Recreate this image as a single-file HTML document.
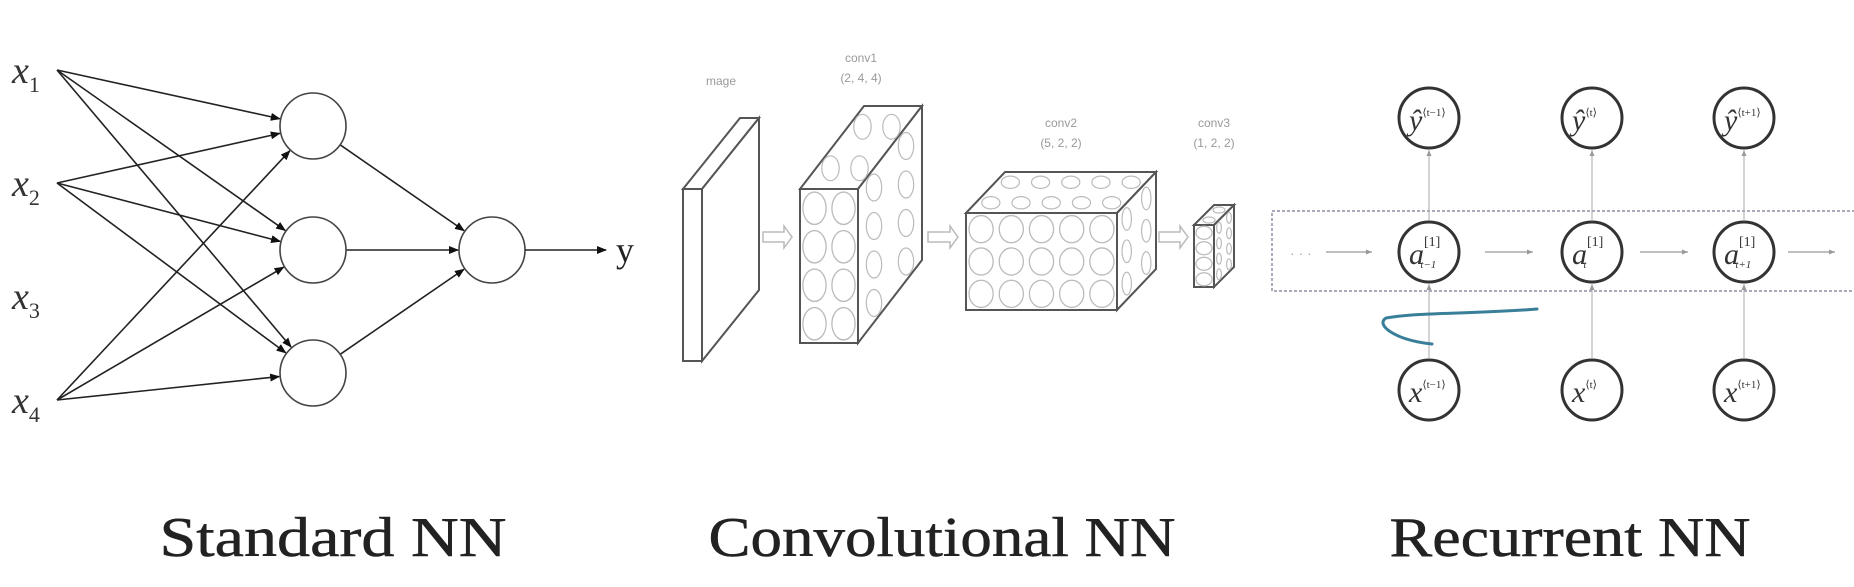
<!DOCTYPE html>
<html><head><meta charset="utf-8"><style>
html,body{margin:0;padding:0;background:#fff;}
svg{display:block;}
</style></head><body>
<svg id="fig" width="1854" height="587" viewBox="0 0 1854 587" xmlns="http://www.w3.org/2000/svg">
<defs>
<marker id="ah" markerWidth="10" markerHeight="8" refX="9" refY="4" orient="auto" markerUnits="userSpaceOnUse"><path d="M0,0 L10,4 L0,8 z" fill="#111"/></marker>
<marker id="ahs" markerWidth="6" markerHeight="5" refX="6" refY="2.5" orient="auto" markerUnits="userSpaceOnUse"><path d="M0,0 L6,2.5 L0,5 z" fill="#999"/></marker>
</defs>
<g id="std"></g>
<g id="cnn"></g>
<g id="rnn"></g>
<text x="333" y="556" text-anchor="middle" font-family="Liberation Serif, serif" font-size="56" fill="#222" stroke="#222" stroke-width="0.5" textLength="347" lengthAdjust="spacingAndGlyphs">Standard NN</text>
<text x="942" y="556" text-anchor="middle" font-family="Liberation Serif, serif" font-size="56" fill="#222" stroke="#222" stroke-width="0.5" textLength="467" lengthAdjust="spacingAndGlyphs">Convolutional NN</text>
<text x="1570" y="556" text-anchor="middle" font-family="Liberation Serif, serif" font-size="56" fill="#222" stroke="#222" stroke-width="0.5" textLength="361" lengthAdjust="spacingAndGlyphs">Recurrent NN</text>
</svg>
<script>
const NS="http://www.w3.org/2000/svg";
const inputLabels=["1","2","3","4"];
const inputY=[70,183,296,400];
const connectedInputs=[0,1,3];
const hiddenY=[126,250,373];
const outputY=[250];
function mk(parent,tag,attrs,txt){const e=document.createElementNS(NS,tag);for(const k in attrs)e.setAttribute(k,attrs[k]);if(txt!==undefined)e.textContent=txt;parent.appendChild(e);return e;}
const std=document.getElementById('std');
const R=33, inX=57, hX=313, oX=492;
connectedInputs.forEach(i=>{hiddenY.forEach((hy,j)=>{
 const dx=hX-inX, dy=hy-inputY[i], L=Math.hypot(dx,dy);
 const l=mk(std,'line',{x1:inX,y1:inputY[i],x2:hX-dx/L*(R+1),y2:hy-dy/L*(R+1),stroke:'#222','stroke-width':1.6,'marker-end':'url(#ah)'});
 
 
});});
hiddenY.forEach(hy=>{
 const dx=oX-hX, dy=outputY[0]-hy, L=Math.hypot(dx,dy);
 const l=mk(std,'line',{x1:hX+dx/L*R,y1:hy+dy/L*R,x2:oX-dx/L*(R+1),y2:outputY[0]-dy/L*(R+1),stroke:'#222','stroke-width':1.6,'marker-end':'url(#ah)'});
 
 
});
hiddenY.forEach(hy=>{
 const c=mk(std,'circle',{cx:hX,cy:hy,r:R,fill:'#fff',stroke:'#444','stroke-width':1.6});
 
 
});
const oc=mk(std,'circle',{cx:oX,cy:outputY[0],r:R,fill:'#fff',stroke:'#444','stroke-width':1.6});


const oa=mk(std,'line',{x1:oX+R,y1:outputY[0],x2:606,y2:outputY[0],stroke:'#222','stroke-width':1.6,'marker-end':'url(#ah)'});


const yl=mk(std,'text',{x:616,y:262,'font-family':'Liberation Serif, serif','font-size':36,fill:'#222'},'y');


inputLabels.forEach((s,i)=>{
 const t=mk(std,'text',{x:12,y:inputY[i]+13,'font-family':'Liberation Serif, serif','font-size':38,'font-style':'italic',fill:'#333'});
 
 
 mk(t,'tspan',{},'x');
 mk(t,'tspan',{'font-size':22,dy:9,'font-style':'normal'},s);
});

// CNN
const cnn=document.getElementById('cnn');
const boxes=[
 {name:'image',x:683,y:189,w:19,h:172,dx:57,dy:-71,lab:['mage'],rows:0,cols:0},
 {name:'conv1',x:800,y:189,w:58,h:154,dx:64,dy:-83,lab:['conv1','(2, 4, 4)'],rows:4,cols:2},
 {name:'conv2',x:966,y:213,w:151,h:97,dx:39,dy:-41,lab:['conv2','(5, 2, 2)'],rows:3,cols:5},
 {name:'conv3',x:1194,y:225,w:20,h:62,dx:20,dy:-20,lab:['conv3','(1, 2, 2)'],rows:4,cols:1}
];
boxes.forEach(b=>{
 const g=mk(cnn,'g',{});
 
 
 const st={fill:'#fff',stroke:'#555','stroke-width':2};
 mk(g,'polygon',Object.assign({points:`${b.x},${b.y} ${b.x+b.dx},${b.y+b.dy} ${b.x+b.w+b.dx},${b.y+b.dy} ${b.x+b.w},${b.y}`},st));
 mk(g,'polygon',Object.assign({points:`${b.x+b.w},${b.y} ${b.x+b.w+b.dx},${b.y+b.dy} ${b.x+b.w+b.dx},${b.y+b.h+b.dy} ${b.x+b.w},${b.y+b.h}`},st));
 mk(g,'rect',Object.assign({x:b.x,y:b.y,width:b.w,height:b.h},st));
 if(b.rows){const cw=b.w/b.cols, ch=b.h/b.rows;
  for(let r=0;r<b.rows;r++)for(let c=0;c<b.cols;c++)mk(g,'ellipse',{cx:b.x+cw*(c+.5),cy:b.y+ch*(r+.5),rx:cw*.4,ry:ch*.42,fill:'none',stroke:'#bbb','stroke-width':1.3});
  for(let r=0;r<2;r++)for(let c=0;c<b.cols;c++){const f=(r+.5)/2;mk(g,'ellipse',{cx:b.x+cw*(c+.5)+b.dx*f,cy:b.y+b.dy*f,rx:cw*.3,ry:Math.abs(b.dy)*.15,fill:'none',stroke:'#bbb','stroke-width':1.2});}
  for(let r=0;r<b.rows;r++)for(let c=0;c<2;c++){const f=(c+.5)/2;mk(g,'ellipse',{cx:b.x+b.w+b.dx*f,cy:b.y+ch*(r+.5)+b.dy*f,rx:Math.abs(b.dx)*.12,ry:ch*.35,fill:'none',stroke:'#bbb','stroke-width':1.2});}
 }
 b.lab.forEach((s,k)=>{const t=mk(cnn,'text',{x:b.x+b.w/2+b.dx/2,y:(b.name==='image'?85:(b.name==='conv1'?62:127))+k*20,'text-anchor':'middle','font-family':'Liberation Sans, sans-serif','font-size':12,fill:'#999'},s);
  
  });
});
[[763,792],[928,958],[1159,1188]].forEach(a=>{
 const p=mk(cnn,'path',{d:`M${a[0]},${232} H${a[1]-8} V226 L${a[1]},237 L${a[1]-8},248 V242 H${a[0]} z`,fill:'#fff',stroke:'#bbb','stroke-width':1.5});
 
 
});

// RNN
const rnn=document.getElementById('rnn');
const stepX=[1429,1592,1744];
const aLab=['t−1','t','t+1'];
const ySup=['⟨t−1⟩','⟨t⟩','⟨t+1⟩'];
const rowY={y:118,a:252,x:390};
const rr=mk(rnn,'rect',{x:1272,y:211,width:600,height:80,fill:'none',stroke:'#aab','stroke-width':2,'stroke-dasharray':'3 2'});


const dots=mk(rnn,'text',{x:1290,y:258,'font-family':'Liberation Sans, sans-serif','font-size':14,fill:'#aaa'},'· · ·');


[[1326,1372],[1485,1533],[1640,1688],[1788,1835]].forEach(a=>{
 const l=mk(rnn,'line',{x1:a[0],y1:rowY.a,x2:a[1],y2:rowY.a,stroke:'#999','stroke-width':1.2,'marker-end':'url(#ahs)'});
 
 
});
stepX.forEach((cx,i)=>{
 [[rowY.x-32,rowY.a+32],[rowY.a-32,rowY.y+32]].forEach(v=>{
  const l=mk(rnn,'line',{x1:cx,y1:v[0],x2:cx,y2:v[1],stroke:'#aaa','stroke-width':1,'marker-end':'url(#ahs)'});
  
  
 });
 ['y','a','x'].forEach(k=>{
  const c=mk(rnn,'circle',{cx:cx,cy:rowY[k],r:30,fill:'#fff',stroke:'#333','stroke-width':3});
  
  
  const t=mk(rnn,'text',{x:cx-20,y:rowY[k]+12,'font-family':'Liberation Serif, serif','font-style':'italic','font-size':30,fill:'#333'});
  
  
  if(k==='a'){mk(t,'tspan',{},'a');mk(t,'tspan',{'font-size':14,dy:-18,'font-style':'normal'},'[1]');mk(t,'tspan',{'font-size':11,dx:-20,dy:22},aLab[i]);}
  else if(k==='y'){mk(t,'tspan',{},'ŷ');mk(t,'tspan',{'font-size':11,dy:-14,'font-style':'normal'},ySup[i]);}
  else {mk(t,'tspan',{},'x');mk(t,'tspan',{'font-size':11,dy:-14,'font-style':'normal'},ySup[i]);}
 });
});
const bl=mk(rnn,'path',{d:'M1537,309 C1480,314 1420,312 1386,318 C1375,325 1395,340 1432,344',fill:'none',stroke:'#3a7f9a','stroke-width':3,'stroke-linecap':'round'});


</script>
</body></html>
